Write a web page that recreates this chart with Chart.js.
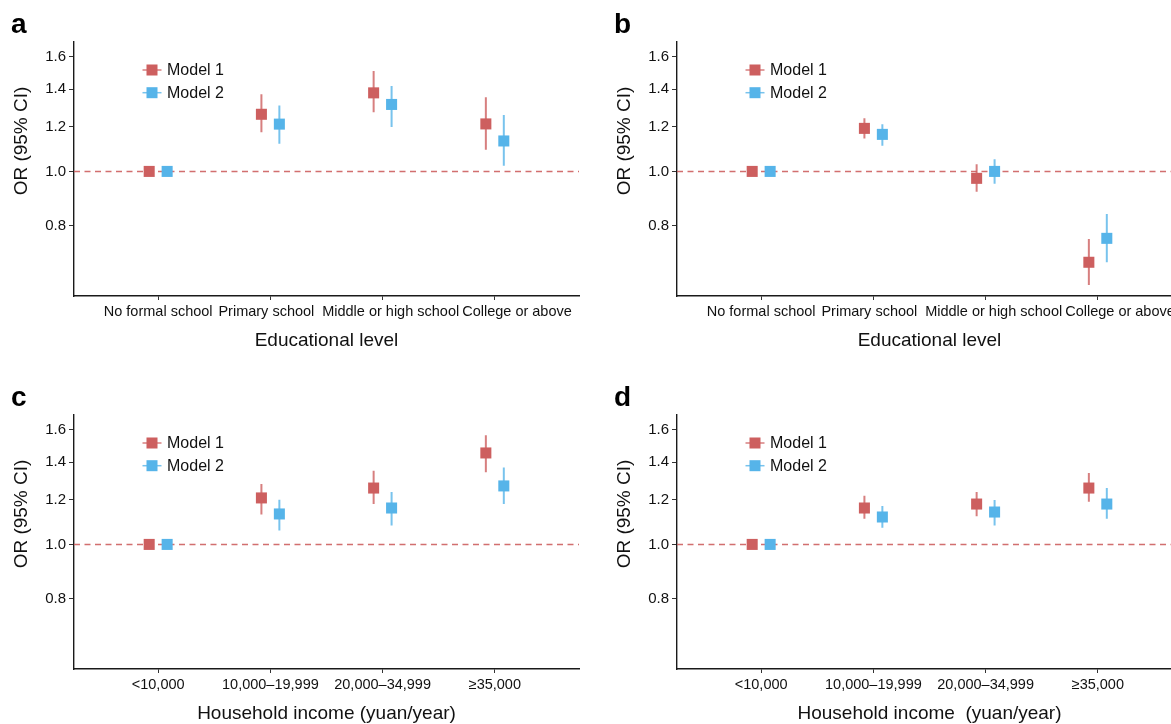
<!DOCTYPE html>
<html>
<head>
<meta charset="utf-8">
<script src="https://cdn.jsdelivr.net/npm/chart.js@4.4.0/dist/chart.umd.min.js"></script>
<style>
  body { margin: 0; overflow: hidden; background: #fff; width: 1171px; height: 724px; position: relative; }
  .panel { position: absolute; width: 603px; height: 374px; }
</style>
</head>
<body>
<div class="panel" style="left:0;top:0"><canvas id="chartA" width="603" height="374"></canvas></div>
<div class="panel" style="left:603px;top:0"><canvas id="chartB" width="603" height="374"></canvas></div>
<div class="panel" style="left:0;top:373px"><canvas id="chartC" width="603" height="374"></canvas></div>
<div class="panel" style="left:603px;top:373px"><canvas id="chartD" width="603" height="374"></canvas></div>
<script>
// categorias y ticks
const educacion = ['No formal school', 'Primary school', 'Middle or high school', 'College or above'];
const ingresos = ['<10,000', '10,000\u201319,999', '20,000\u201334,999', '\u226535,000'];
const yTicks = [0.8, 1.0, 1.2, 1.4, 1.6];
const modelos = ['Model 1', 'Model 2'];

// panel a - nivel educativo
const orA1 = [1.0, 1.264, 1.38, 1.215];
const loA1 = [null, 1.174, 1.275, 1.093];
const hiA1 = [null, 1.372, 1.51, 1.355];
const orA2 = [1.0, 1.214, 1.316, 1.133];
const loA2 = [null, 1.12, 1.20, 1.024];
const hiA2 = [null, 1.31, 1.42, 1.26];

// panel b - nivel educativo
const orB1 = [1.0, 1.193, 0.972, 0.689];
const loB1 = [null, 1.144, 0.920, 0.628];
const hiB1 = [null, 1.243, 1.03, 0.758];
const orB2 = [1.0, 1.164, 1.0, 0.760];
const loB2 = [null, 1.111, 0.951, 0.689];
const hiB2 = [null, 1.213, 1.051, 0.84];

// panel c - ingreso familiar
const orC1 = [1.0, 1.21, 1.26, 1.455];
const loC1 = [null, 1.131, 1.18, 1.344];
const hiC1 = [null, 1.281, 1.353, 1.564];
const orC2 = [1.0, 1.133, 1.161, 1.271];
const loC2 = [null, 1.059, 1.081, 1.18];
const hiC2 = [null, 1.201, 1.24, 1.371];

// panel d - ingreso familiar
const orD1 = [1.0, 1.161, 1.18, 1.26];
const loD1 = [null, 1.111, 1.122, 1.191];
const hiD1 = [null, 1.221, 1.24, 1.34];
const orD2 = [1.0, 1.119, 1.142, 1.18];
const loD2 = [null, 1.071, 1.081, 1.111];
const hiD2 = [null, 1.17, 1.2, 1.26];

const colPunto = ['#CD5F5F', '#56B4E9'];
const colLinea = ['rgba(205,95,95,0.8)', 'rgba(86,180,233,0.8)'];
const fuente = '"Liberation Sans", Arial, sans-serif';
const xMin = 0.25, xMax = 4.75;
const desplazamiento = [-0.08, 0.08];
// espacios para correr las etiquetas del eje x como en el original (negativo = al final)
const rellenoEdu = [0, -2, 4, 11];
const rellenoIng = [0, 0, 0, 0];

// leyenda, letra del panel y titulo del eje y
const extras = {
  id: 'extras',
  afterDraw(chart, args, opts) {
    const ctx = chart.ctx;
    ctx.save();
    ctx.fillStyle = '#000';
    ctx.font = 'bold 28px ' + fuente;
    ctx.textAlign = 'left';
    ctx.textBaseline = 'alphabetic';
    ctx.fillText(opts.letra, 11, 33);

    ctx.save();
    ctx.translate(22, 141);
    ctx.rotate(-Math.PI / 2);
    ctx.font = '19px ' + fuente;
    ctx.textAlign = 'center';
    ctx.textBaseline = 'middle';
    ctx.fillStyle = '#111';
    ctx.fillText('OR (95% CI)', 0, 0);
    ctx.restore();

    modelos.forEach(function (m, i) {
      const y = 70 + i * 22.7;
      ctx.strokeStyle = colLinea[i];
      ctx.lineWidth = 1.5;
      ctx.beginPath();
      ctx.moveTo(142.5, y);
      ctx.lineTo(161.5, y);
      ctx.stroke();
      ctx.fillStyle = colPunto[i];
      ctx.fillRect(146.5, y - 5.5, 11, 11);
      ctx.fillStyle = '#111';
      ctx.font = '16px ' + fuente;
      ctx.textBaseline = 'middle';
      ctx.fillText(m, 167, y + 1);
    });
    ctx.restore();
  }
};

function etiqueta(texto, n) {
  return n >= 0 ? ' '.repeat(n) + texto : texto + ' '.repeat(-n);
}

function datosError(lo, hi, off) {
  var puntos = [];
  for (var i = 0; i < lo.length; i++) {
    if (lo[i] === null) continue;
    puntos.push({ x: i + 1 + off, y: lo[i] });
    puntos.push({ x: i + 1 + off, y: hi[i] });
    puntos.push({ x: i + 1 + off, y: null });
  }
  return puntos;
}

function datosPunto(or, off) {
  return or.map(function (v, i) { return { x: i + 1 + off, y: v }; });
}

function crearPanel(id, letra, categorias, relleno, tituloX, series) {
  var datasets = [];
  // linea de referencia OR = 1
  datasets.push({
    type: 'line',
    data: [{ x: xMin, y: 1 }, { x: xMax, y: 1 }],
    borderColor: 'rgba(205,95,95,0.9)',
    borderWidth: 1.5,
    borderDash: [6, 4.5],
    pointRadius: 0,
    order: 3
  });
  series.forEach(function (s, k) {
    datasets.push({
      type: 'line',
      data: datosError(s.lo, s.hi, desplazamiento[k]),
      borderColor: colLinea[k],
      borderWidth: 2,
      pointRadius: 0,
      spanGaps: false,
      order: 2
    });
    datasets.push({
      type: 'scatter',
      label: modelos[k],
      data: datosPunto(s.or, desplazamiento[k]),
      pointStyle: 'rect',
      pointRadius: 7.8,
      backgroundColor: colPunto[k],
      borderWidth: 0,
      order: 1
    });
  });

  new Chart(document.getElementById(id), {
    type: 'scatter',
    data: { datasets: datasets },
    options: {
      responsive: false,
      animation: false,
      events: [],
      devicePixelRatio: 1,
      layout: { padding: { top: 42, right: 24, left: 0, bottom: 0 } },
      plugins: {
        legend: { display: false },
        tooltip: { enabled: false },
        extras: { letra: letra }
      },
      scales: {
        x: {
          type: 'linear',
          min: xMin,
          max: xMax,
          afterBuildTicks: function (axis) {
            axis.ticks = [1, 2, 3, 4].map(function (v) { return { value: v }; });
          },
          afterFit: function (axis) { axis.height = 78; },
          ticks: {
            autoSkip: false,
            maxRotation: 0,
            minRotation: 0,
            padding: 3,
            color: '#111',
            font: { family: fuente, size: 14.5 },
            callback: function (v) { return etiqueta(categorias[v - 1], relleno[v - 1]); }
          },
          grid: { drawOnChartArea: false, drawTicks: true, tickLength: 4, color: '#333' },
          border: { display: true, color: '#1a1a1a', width: 1.4 },
          title: {
            display: true,
            text: tituloX,
            color: '#111',
            font: { family: fuente, size: 19 },
            padding: { top: 0, bottom: 22 }
          }
        },
        y: {
          type: 'logarithmic',
          min: 0.6,
          max: 1.7,
          afterBuildTicks: function (axis) {
            axis.ticks = yTicks.map(function (v) { return { value: v }; });
          },
          afterFit: function (axis) { axis.width = 74; },
          ticks: {
            autoSkip: false,
            padding: 3,
            color: '#111',
            font: { family: fuente, size: 15 },
            callback: function (v) { return Number(v).toFixed(1); }
          },
          grid: { drawOnChartArea: false, drawTicks: true, tickLength: 5, color: '#333' },
          border: { display: true, color: '#1a1a1a', width: 1.4 }
        }
      }
    },
    plugins: [extras]
  });
}

crearPanel('chartA', 'a', educacion, rellenoEdu, 'Educational level', [
  { or: orA1, lo: loA1, hi: hiA1 },
  { or: orA2, lo: loA2, hi: hiA2 }
]);
crearPanel('chartB', 'b', educacion, rellenoEdu, 'Educational level', [
  { or: orB1, lo: loB1, hi: hiB1 },
  { or: orB2, lo: loB2, hi: hiB2 }
]);
crearPanel('chartC', 'c', ingresos, rellenoIng, 'Household income (yuan/year)', [
  { or: orC1, lo: loC1, hi: hiC1 },
  { or: orC2, lo: loC2, hi: hiC2 }
]);
crearPanel('chartD', 'd', ingresos, rellenoIng, 'Household income  (yuan/year)', [
  { or: orD1, lo: loD1, hi: hiD1 },
  { or: orD2, lo: loD2, hi: hiD2 }
]);
</script>
</body>
</html>
